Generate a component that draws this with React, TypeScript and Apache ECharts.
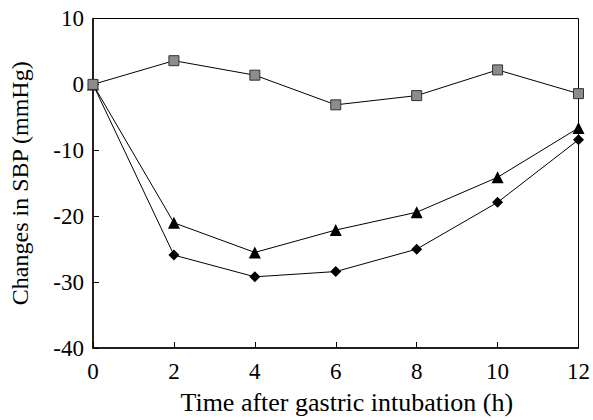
import React, { useEffect, useRef } from "react";
import * as echarts from "echarts";

const hours = [0, 2, 4, 6, 8, 10, 12];
const squareSeries = [0, 3.6, 1.4, -3.1, -1.7, 2.2, -1.4];
const triangleSeries = [0, -21.0, -25.5, -22.1, -19.4, -14.1, -6.6];
const diamondSeries = [0, -25.9, -29.2, -28.4, -25.0, -17.9, -8.4];

const font = "Liberation Serif, Times New Roman, serif";

export default function App() {
  const ref = useRef<HTMLDivElement>(null);
  useEffect(() => {
    const chart = echarts.init(ref.current!, null, { renderer: "svg" });
    const pair = (vals: number[]) => hours.map((h, i) => [h, vals[i]]);
    const lineStyle = { color: "#000", width: 1 };
    chart.setOption({
      animation: false,
      backgroundColor: "#fff",
      grid: {
        left: 92,
        right: 12,
        top: 18.5,
        bottom: 69,
        show: true,
        borderColor: "#000",
        borderWidth: 1,
        backgroundColor: "transparent",
      },
      xAxis: {
        type: "value",
        min: 0,
        max: 12,
        interval: 2,
        name: "Time after gastric intubation (h)",
        nameLocation: "middle",
        nameGap: 41,
        nameTextStyle: {
          fontFamily: font,
          fontSize: 26,
          color: "#000",
          padding: [0, 0, 0, 22],
        },
        axisLine: { show: true, onZero: false, lineStyle: { color: "#000", width: 1.5 } },
        axisTick: { show: true, inside: true, length: 6, lineStyle: { color: "#000" } },
        axisLabel: { fontFamily: font, fontSize: 23, color: "#000", margin: 12 },
        splitLine: { show: false },
      },
      yAxis: {
        type: "value",
        min: -40,
        max: 10,
        interval: 10,
        name: "Changes in SBP (mmHg)",
        nameLocation: "middle",
        nameGap: 61,
        nameTextStyle: { fontFamily: font, fontSize: 24, color: "#000" },
        axisLine: { show: true, onZero: false, lineStyle: { color: "#000", width: 1.5 } },
        axisTick: { show: true, inside: true, length: 6, lineStyle: { color: "#000" } },
        axisLabel: { fontFamily: font, fontSize: 23, color: "#000", margin: 9 },
        splitLine: { show: false },
      },
      series: [
        {
          type: "line",
          data: pair(diamondSeries),
          symbol: "diamond",
          symbolSize: 11,
          itemStyle: { color: "#000" },
          lineStyle,
          z: 3,
        },
        {
          type: "line",
          data: pair(triangleSeries),
          symbol: "triangle",
          symbolSize: 12,
          itemStyle: { color: "#000" },
          lineStyle,
          z: 3,
        },
        {
          type: "line",
          data: pair(squareSeries),
          symbol: "rect",
          symbolSize: 10,
          itemStyle: { color: "#8c8c8c", borderColor: "#333", borderWidth: 1 },
          lineStyle,
          z: 4,
        },
      ],
    });
    return () => chart.dispose();
  }, []);
  return (
    <div
      ref={ref}
      style={{ position: "absolute", left: 0, top: 0, width: 593, height: 420 }}
    />
  );
}
